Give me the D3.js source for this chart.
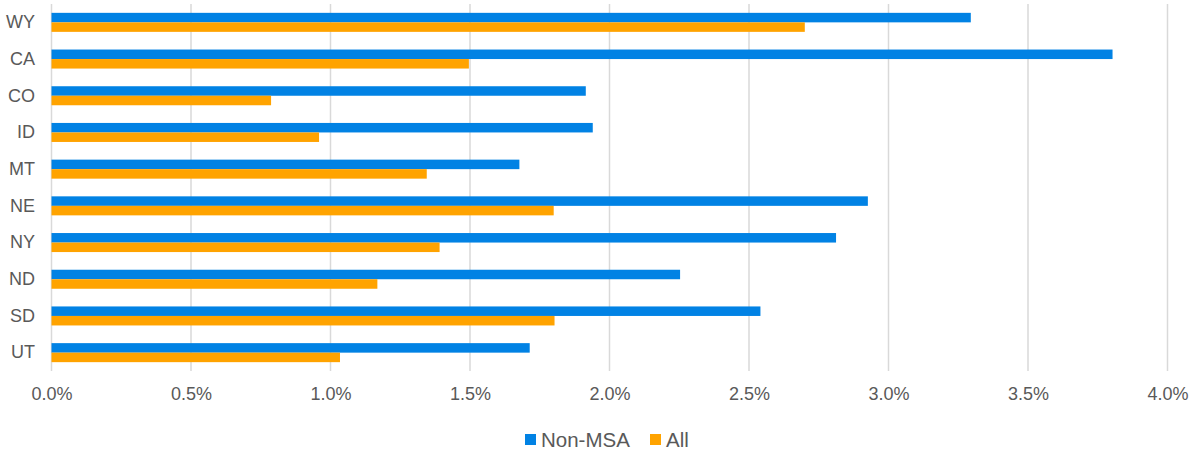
<!DOCTYPE html>
<html>
<head>
<meta charset="utf-8">
<script src="https://cdn.jsdelivr.net/npm/d3@7"></script>
<style>
  html, body { margin: 0; padding: 0; background: #fff; }
  svg { display: block; font-family: "Liberation Sans", Arial, sans-serif; }
</style>
</head>
<body>
<svg id="chart" width="1194" height="454"></svg>
<script>
// States, top to bottom
const states = ["WY", "CA", "CO", "ID", "MT", "NE", "NY", "ND", "SD", "UT"];
// Share for non-metropolitan areas
const nonMsa = [0.03295, 0.03803, 0.01915, 0.0194, 0.01677, 0.02926, 0.02812, 0.02253, 0.02541, 0.01714];
// Share for all areas
const allAreas = [0.0270, 0.01496, 0.00787, 0.00959, 0.01345, 0.0180, 0.01391, 0.01168, 0.01803, 0.01034];
const seriesNames = ["Non-MSA", "All"];
const seriesColors = ["#0182e4", "#ffa300"];
const xTicks = [0, 0.005, 0.01, 0.015, 0.02, 0.025, 0.03, 0.035, 0.04];

const svg = d3.select("#chart");
const plotLeft = 51.5, plotRight = 1167.5, plotTop = 4, plotBottom = 371;

const x = d3.scaleLinear().domain([0, 0.04]).range([plotLeft, plotRight]);
const y = d3.scaleBand().domain(states).range([plotTop, plotBottom]).padding(0);
const ySub = d3.scaleBand().domain(seriesNames).range([0, y.bandwidth()])
  .paddingInner(0).paddingOuter(0.93);

const textColor = "#595959";

// vertical gridlines
svg.append("g").selectAll("line").data(xTicks).join("line")
  .attr("x1", d => x(d)).attr("x2", d => x(d))
  .attr("y1", plotTop).attr("y2", plotBottom)
  .attr("stroke", "#d9d9d9").attr("stroke-width", 1.5);

// x tick labels
const xAxis = d3.axisBottom(x).tickValues(xTicks).tickFormat(d3.format(".1%")).tickSize(0).tickPadding(0);
const gx = svg.append("g").attr("transform", `translate(0, 399.5)`).call(xAxis);
gx.select(".domain").remove();
gx.selectAll("text").attr("dy", 0).attr("fill", textColor)
  .style("font-size", "18px").style("font-family", "'Liberation Sans', Arial, sans-serif");

// category labels
const yAxis = d3.axisLeft(y).tickSize(0).tickPadding(0);
const gy = svg.append("g").attr("transform", `translate(35, 0)`).call(yAxis);
gy.select(".domain").remove();
gy.selectAll("text").attr("fill", textColor)
  .style("font-size", "18px").style("font-family", "'Liberation Sans', Arial, sans-serif");

// bars
const rows = states.map((s, i) => ({ state: s, values: [nonMsa[i], allAreas[i]] }));
const groups = svg.append("g").selectAll("g").data(rows).join("g")
  .attr("transform", d => `translate(0, ${y(d.state)})`);
groups.selectAll("rect")
  .data(d => d.values.map((v, j) => ({ name: seriesNames[j], value: v, color: seriesColors[j] })))
  .join("rect")
  .attr("x", x(0))
  .attr("y", d => ySub(d.name))
  .attr("width", d => x(d.value) - x(0))
  .attr("height", ySub.bandwidth())
  .attr("fill", d => d.color);

// legend
const legend = svg.append("g").attr("transform", "translate(525, 440)");
const legendX = [0, 125];
seriesNames.forEach((name, i) => {
  const g = legend.append("g").attr("transform", `translate(${legendX[i]}, 0)`);
  g.append("rect").attr("x", 0).attr("y", -6).attr("width", 11).attr("height", 11).attr("fill", seriesColors[i]);
  g.append("text").attr("x", 16).attr("y", 0).attr("dy", "0.35em")
    .attr("fill", textColor).style("font-size", "20.5px").text(name);
});
</script>
</body>
</html>
